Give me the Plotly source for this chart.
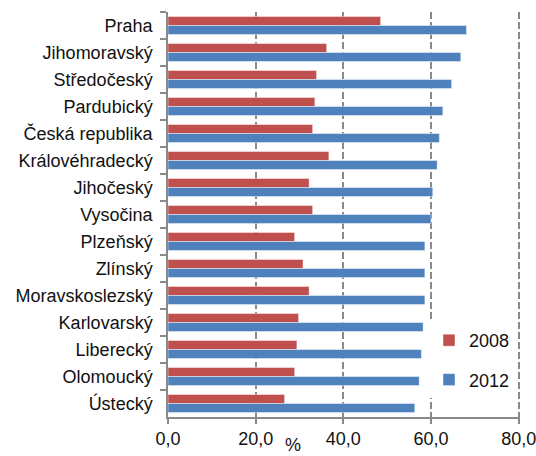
import plotly.graph_objects as go

regions = ["Praha", "Jihomoravský", "Středočeský", "Pardubický", "Česká republika",
           "Královéhradecký", "Jihočeský", "Vysočina", "Plzeňský", "Zlínský",
           "Moravskoslezský", "Karlovarský", "Liberecký", "Olomoucký", "Ústecký"]
v2008 = [48.5, 36.2, 33.9, 33.5, 33.0, 36.7, 32.2, 33.0, 28.9, 30.8, 32.2, 29.8, 29.4, 28.9, 26.6]
v2012 = [68.1, 66.8, 64.7, 62.7, 61.9, 61.4, 60.4, 60.0, 58.6, 58.6, 58.6, 58.2, 57.8, 57.3, 56.3]
tick_vals = [0, 20, 40, 60, 80]
tick_text = ["0,0", "20,0", "40,0", "60,0", "80,0"]

FONT = "Liberation Sans, Arial, sans-serif"
W, H = 536, 456
L, R, T, B = 168, 16, 12, 39
pw, ph = W - L - R, H - T - B

fig = go.Figure()
fig.add_trace(go.Bar(y=regions, x=v2008, orientation="h", name="2008",
                     marker=dict(color="#C0504D", line=dict(color="rgba(255,255,255,0.45)", width=1)),
                     legendgroup="a"))
fig.add_trace(go.Bar(y=regions, x=v2012, orientation="h", name="2012",
                     marker=dict(color="#4F81BD", line=dict(color="rgba(255,255,255,0.45)", width=1)),
                     legendgroup="b"))

def px_to_paper_x(px):
    return (px - L) / pw

def px_to_paper_y(py):
    return (H - B - py) / ph

fig.update_layout(
    width=W, height=H,
    margin=dict(l=L, r=R, t=T, b=B, pad=0, autoexpand=False),
    paper_bgcolor="white", plot_bgcolor="white",
    barmode="group", bargap=0.33, bargroupgap=0,
    font=dict(family=FONT, size=18, color="#111111"),
    legend=dict(x=px_to_paper_x(429), y=px_to_paper_y(322), xanchor="left", yanchor="top",
                bgcolor="white", traceorder="grouped", tracegroupgap=13,
                font=dict(size=18), borderwidth=0),
    xaxis=dict(range=[0, 80.3], tickvals=tick_vals, ticktext=tick_text,
               showgrid=True, gridcolor="#8a8a8a", gridwidth=1.5, griddash="7px,3px",
               showline=True, linecolor="#8a8a8a", linewidth=1.5,
               ticks="outside", ticklen=5, tickcolor="#8a8a8a", tickwidth=1.5,
               ticklabeloverflow="allow",
               zeroline=False, fixedrange=True, automargin=False),
    yaxis=dict(autorange="reversed", type="category", tickson="boundaries",
               showline=True, linecolor="#8a8a8a", linewidth=1.5,
               ticks="outside", ticklen=6, tickcolor="#8a8a8a", tickwidth=1.5,
               ticklabelstandoff=10, showgrid=False, fixedrange=True, automargin=False),
    annotations=[dict(text="%", xref="paper", yref="paper",
                      x=px_to_paper_x(293), y=px_to_paper_y(457),
                      xanchor="center", yanchor="bottom", showarrow=False,
                      font=dict(size=18, family=FONT))],
)

fig.write_html("out.html", config={"displayModeBar": False},
               post_script="document.body.style.margin='0';document.body.style.overflow='hidden';")
